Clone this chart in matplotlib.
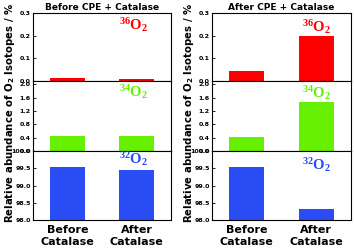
import numpy as np
import matplotlib.pyplot as plt

# Data (relative abundance, %)
categories = ['Before\nCatalase', 'After\nCatalase']
titles = ['Before CPE + Catalase', 'After CPE + Catalase']
o36 = [[0.012, 0.011], [0.045, 0.200]]
o34 = [[0.44, 0.45], [0.42, 1.48]]
o32 = [[99.55, 99.45], [99.53, 98.32]]

plt.rcParams['mathtext.fontset'] = 'custom'
plt.rcParams['mathtext.bf'] = 'Liberation Serif:bold'
plt.rcParams['mathtext.sf'] = 'DejaVu Sans:bold'

W, H = 354, 248
fig = plt.figure(figsize=(W / 100, H / 100), dpi=100)

def px_axes(x0, x1, y0, y1):
    return fig.add_axes([x0 / W, 1 - y1 / H, (x1 - x0) / W, (y1 - y0) / H])

col_x = [(33, 171), (212, 351)]
rows_y = [(13, 81), (81, 151), (151, 220)]
colors = ['#ff0000', '#66f000', '#2a4cf5']
labels = [r'$\mathbf{^{36}O_2}$', r'$\mathbf{^{34}O_2}$', r'$\mathbf{^{32}O_2}$']
ylims = [(0, 0.3), (0, 2.1), (98.0, 100.0)]
yticks = [[0.0, 0.1, 0.2, 0.3], [0.0, 0.4, 0.8, 1.2, 1.6, 2.0],
          [98.0, 98.5, 99.0, 99.5, 100.0]]
label_x = [0.73, 0.75]
label_y = [[0.82, 0.79], [0.84, 0.83], [0.88, 0.80]]

xpos = np.arange(1, 3)
for c in range(2):
    data = [o36[c], o34[c], o32[c]]
    for r in range(3):
        ax = px_axes(col_x[c][0], col_x[c][1], rows_y[r][0], rows_y[r][1])
        base = 98.0 if r == 2 else 0.0
        ax.bar(xpos, np.array(data[r]) - base, width=0.5, color=colors[r], bottom=base)
        ax.set_xlim(0.5, 2.5)
        ax.set_ylim(*ylims[r])
        ax.set_yticks(yticks[r])
        ax.set_yticklabels([f'{t:.1f}' for t in yticks[r]], fontsize=4.5, fontweight='bold')
        ax.tick_params(axis='y', direction='in', length=2, width=0.6, pad=1.5)
        ax.tick_params(axis='x', length=0)
        for s in ax.spines.values():
            s.set_linewidth(0.8)
        if r < 2:
            ax.set_xticks([])
        else:
            ax.set_xticks(xpos)
            ax.set_xticklabels(categories, fontsize=8, fontweight='bold', linespacing=1.3)
        ax.text(label_x[c], label_y[r][c], labels[r], transform=ax.transAxes, color=colors[r],
                fontsize=10.5, ha='center', va='center', zorder=5)
        if r == 0:
            ax.set_title(titles[c], fontsize=6.5, fontweight='bold', pad=2.5)
    fig.text((col_x[c][0] - 23) / W, 1 - 113 / H,
             r'Relative abundance of O$_\mathsf{2}$ Isotopes / %',
             rotation=90, fontsize=7.3, fontweight='bold', ha='center', va='center')

fig.savefig('out.png', dpi=100)
